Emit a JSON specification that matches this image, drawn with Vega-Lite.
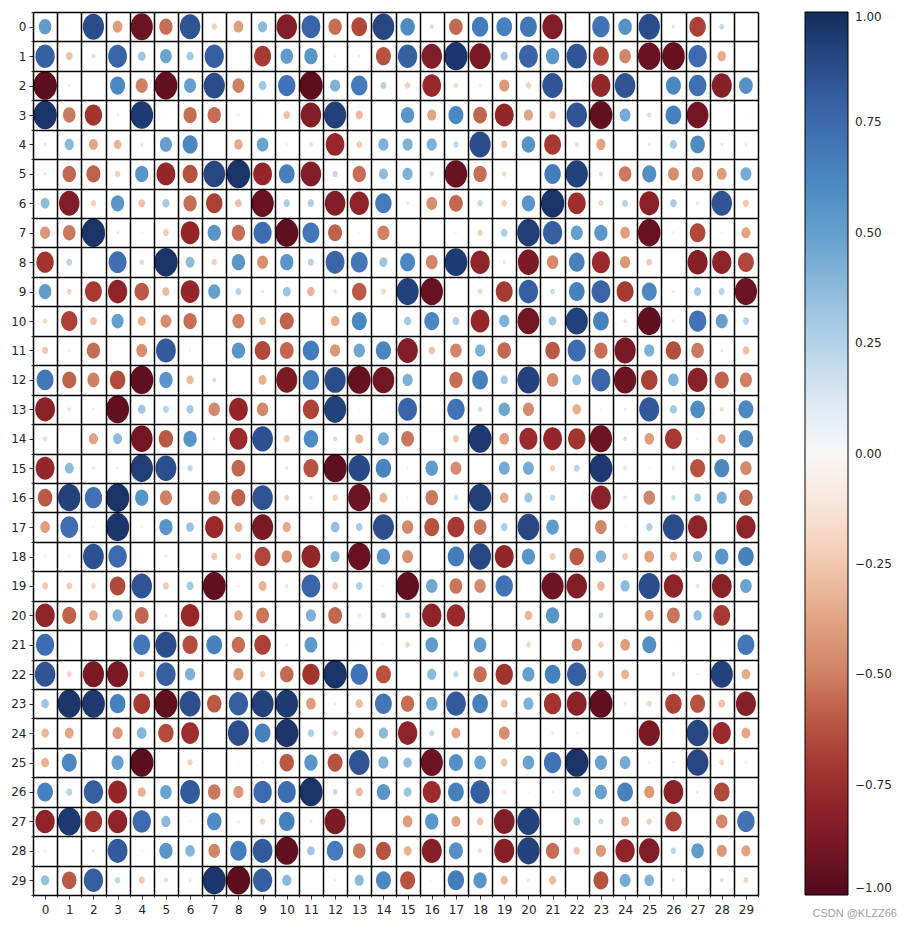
{"$schema":"https://vega.github.io/schema/vega-lite/v6.json","width":725,"height":883,"autosize":{"type":"none"},"padding":{"left":33,"top":12,"right":154,"bottom":30},"background":"white","title":{"text":"CSDN @KLZZ66","orient":"bottom","anchor":"end","frame":"group","dx":139,"offset":-7,"font":"Liberation Sans","fontSize":11,"fontWeight":"normal","color":"#a0a0a0"},"config":{"view":{"stroke":null},"font":"DejaVu Sans"},"data":{"values":[
{"r":0,"c":0,"v":0.52},{"r":0,"c":1,"v":-0.05},{"r":0,"c":2,"v":0.88},{"r":0,"c":3,"v":-0.4},{"r":0,"c":4,"v":-0.92},{"r":0,"c":5,"v":-0.55},{"r":0,"c":6,"v":0.85},{"r":0,"c":7,"v":-0.22},{"r":0,"c":8,"v":-0.4},{"r":0,"c":9,"v":0.38},{"r":0,"c":10,"v":-0.85},{"r":0,"c":11,"v":0.78},{"r":0,"c":12,"v":-0.55},{"r":0,"c":13,"v":-0.65},{"r":0,"c":14,"v":0.9},{"r":0,"c":15,"v":0.6},{"r":0,"c":16,"v":0.17},{"r":0,"c":17,"v":-0.56},{"r":0,"c":18,"v":0.68},{"r":0,"c":19,"v":0.65},{"r":0,"c":20,"v":0.7},{"r":0,"c":21,"v":-0.85},{"r":0,"c":22,"v":0.03},{"r":0,"c":23,"v":0.72},{"r":0,"c":24,"v":0.56},{"r":0,"c":25,"v":0.88},{"r":0,"c":26,"v":0.13},{"r":0,"c":27,"v":-0.68},{"r":0,"c":28,"v":0.2},{"r":0,"c":29,"v":0.02},
{"r":1,"c":0,"v":0.8},{"r":1,"c":1,"v":-0.28},{"r":1,"c":2,"v":0.16},{"r":1,"c":3,"v":0.78},{"r":1,"c":4,"v":0.32},{"r":1,"c":5,"v":0.48},{"r":1,"c":6,"v":0.3},{"r":1,"c":7,"v":0.8},{"r":1,"c":8,"v":0.05},{"r":1,"c":9,"v":-0.7},{"r":1,"c":10,"v":0.52},{"r":1,"c":11,"v":0.55},{"r":1,"c":12,"v":-0.08},{"r":1,"c":13,"v":-0.1},{"r":1,"c":14,"v":-0.62},{"r":1,"c":15,"v":0.8},{"r":1,"c":16,"v":-0.85},{"r":1,"c":17,"v":0.96},{"r":1,"c":18,"v":-0.88},{"r":1,"c":19,"v":0.3},{"r":1,"c":20,"v":0.78},{"r":1,"c":21,"v":0.55},{"r":1,"c":22,"v":0.84},{"r":1,"c":23,"v":-0.65},{"r":1,"c":24,"v":-0.48},{"r":1,"c":25,"v":-0.93},{"r":1,"c":26,"v":-0.94},{"r":1,"c":27,"v":0.76},{"r":1,"c":28,"v":-0.35},{"r":1,"c":29,"v":-0.02},
{"r":2,"c":0,"v":-0.97},{"r":2,"c":1,"v":-0.1},{"r":2,"c":2,"v":-0.02},{"r":2,"c":3,"v":0.62},{"r":2,"c":4,"v":-0.5},{"r":2,"c":5,"v":-0.95},{"r":2,"c":6,"v":0.5},{"r":2,"c":7,"v":0.88},{"r":2,"c":8,"v":-0.5},{"r":2,"c":9,"v":0.32},{"r":2,"c":10,"v":0.72},{"r":2,"c":11,"v":-0.97},{"r":2,"c":12,"v":0.42},{"r":2,"c":13,"v":0.68},{"r":2,"c":14,"v":0.25},{"r":2,"c":15,"v":-0.22},{"r":2,"c":16,"v":-0.77},{"r":2,"c":17,"v":-0.18},{"r":2,"c":18,"v":0.1},{"r":2,"c":19,"v":-0.42},{"r":2,"c":20,"v":-0.22},{"r":2,"c":21,"v":0.85},{"r":2,"c":22,"v":0},{"r":2,"c":23,"v":-0.78},{"r":2,"c":24,"v":0.85},{"r":2,"c":25,"v":0.02},{"r":2,"c":26,"v":0.62},{"r":2,"c":27,"v":0.73},{"r":2,"c":28,"v":-0.83},{"r":2,"c":29,"v":0.57},
{"r":3,"c":0,"v":0.97},{"r":3,"c":1,"v":-0.52},{"r":3,"c":2,"v":-0.72},{"r":3,"c":3,"v":0.1},{"r":3,"c":4,"v":0.94},{"r":3,"c":5,"v":0.05},{"r":3,"c":6,"v":-0.55},{"r":3,"c":7,"v":-0.55},{"r":3,"c":8,"v":-0.1},{"r":3,"c":9,"v":0.05},{"r":3,"c":10,"v":-0.28},{"r":3,"c":11,"v":-0.85},{"r":3,"c":12,"v":0.92},{"r":3,"c":13,"v":-0.3},{"r":3,"c":14,"v":0},{"r":3,"c":15,"v":0.55},{"r":3,"c":16,"v":-0.38},{"r":3,"c":17,"v":0.62},{"r":3,"c":18,"v":-0.57},{"r":3,"c":19,"v":-0.78},{"r":3,"c":20,"v":-0.38},{"r":3,"c":21,"v":-0.28},{"r":3,"c":22,"v":0.85},{"r":3,"c":23,"v":-0.95},{"r":3,"c":24,"v":0.45},{"r":3,"c":25,"v":0.17},{"r":3,"c":26,"v":0.65},{"r":3,"c":27,"v":-0.9},{"r":3,"c":28,"v":0.02},{"r":3,"c":29,"v":0.05},
{"r":4,"c":0,"v":0.13},{"r":4,"c":1,"v":0.38},{"r":4,"c":2,"v":-0.37},{"r":4,"c":3,"v":-0.32},{"r":4,"c":4,"v":-0.14},{"r":4,"c":5,"v":0.5},{"r":4,"c":6,"v":0.62},{"r":4,"c":7,"v":0},{"r":4,"c":8,"v":-0.35},{"r":4,"c":9,"v":0.48},{"r":4,"c":10,"v":-0.1},{"r":4,"c":11,"v":-0.16},{"r":4,"c":12,"v":-0.77},{"r":4,"c":13,"v":-0.24},{"r":4,"c":14,"v":0.42},{"r":4,"c":15,"v":0.42},{"r":4,"c":16,"v":0.42},{"r":4,"c":17,"v":0.22},{"r":4,"c":18,"v":0.88},{"r":4,"c":19,"v":-0.26},{"r":4,"c":20,"v":0.56},{"r":4,"c":21,"v":-0.7},{"r":4,"c":22,"v":0.16},{"r":4,"c":23,"v":-0.38},{"r":4,"c":24,"v":-0.02},{"r":4,"c":25,"v":-0.12},{"r":4,"c":26,"v":0.3},{"r":4,"c":27,"v":0.6},{"r":4,"c":28,"v":0.12},{"r":4,"c":29,"v":-0.13},
{"r":5,"c":0,"v":-0.13},{"r":5,"c":1,"v":-0.56},{"r":5,"c":2,"v":-0.58},{"r":5,"c":3,"v":-0.22},{"r":5,"c":4,"v":0.55},{"r":5,"c":5,"v":-0.78},{"r":5,"c":6,"v":-0.62},{"r":5,"c":7,"v":0.9},{"r":5,"c":8,"v":0.97},{"r":5,"c":9,"v":-0.78},{"r":5,"c":10,"v":0.65},{"r":5,"c":11,"v":-0.85},{"r":5,"c":12,"v":0.22},{"r":5,"c":13,"v":-0.55},{"r":5,"c":14,"v":0.37},{"r":5,"c":15,"v":0.42},{"r":5,"c":16,"v":0.18},{"r":5,"c":17,"v":-0.93},{"r":5,"c":18,"v":-0.55},{"r":5,"c":19,"v":-0.18},{"r":5,"c":20,"v":0},{"r":5,"c":21,"v":0.68},{"r":5,"c":22,"v":0.92},{"r":5,"c":23,"v":0.17},{"r":5,"c":24,"v":-0.52},{"r":5,"c":25,"v":0.58},{"r":5,"c":26,"v":-0.45},{"r":5,"c":27,"v":-0.48},{"r":5,"c":28,"v":-0.4},{"r":5,"c":29,"v":0.45},
{"r":6,"c":0,"v":0.37},{"r":6,"c":1,"v":-0.85},{"r":6,"c":2,"v":-0.22},{"r":6,"c":3,"v":0.55},{"r":6,"c":4,"v":-0.28},{"r":6,"c":5,"v":0.3},{"r":6,"c":6,"v":-0.55},{"r":6,"c":7,"v":-0.68},{"r":6,"c":8,"v":-0.28},{"r":6,"c":9,"v":-0.93},{"r":6,"c":10,"v":0.27},{"r":6,"c":11,"v":0.27},{"r":6,"c":12,"v":-0.85},{"r":6,"c":13,"v":-0.8},{"r":6,"c":14,"v":0.68},{"r":6,"c":15,"v":0.12},{"r":6,"c":16,"v":-0.45},{"r":6,"c":17,"v":-0.57},{"r":6,"c":18,"v":0.22},{"r":6,"c":19,"v":-0.23},{"r":6,"c":20,"v":0.55},{"r":6,"c":21,"v":0.97},{"r":6,"c":22,"v":-0.74},{"r":6,"c":23,"v":-0.2},{"r":6,"c":24,"v":0.25},{"r":6,"c":25,"v":-0.82},{"r":6,"c":26,"v":0.28},{"r":6,"c":27,"v":0.12},{"r":6,"c":28,"v":0.85},{"r":6,"c":29,"v":-0.25},
{"r":7,"c":0,"v":-0.42},{"r":7,"c":1,"v":-0.52},{"r":7,"c":2,"v":0.97},{"r":7,"c":3,"v":-0.12},{"r":7,"c":4,"v":-0.08},{"r":7,"c":5,"v":-0.24},{"r":7,"c":6,"v":-0.78},{"r":7,"c":7,"v":0.55},{"r":7,"c":8,"v":-0.55},{"r":7,"c":9,"v":0.75},{"r":7,"c":10,"v":-0.96},{"r":7,"c":11,"v":0.7},{"r":7,"c":12,"v":-0.58},{"r":7,"c":13,"v":0.06},{"r":7,"c":14,"v":-0.5},{"r":7,"c":15,"v":0.02},{"r":7,"c":16,"v":0},{"r":7,"c":17,"v":-0.07},{"r":7,"c":18,"v":-0.22},{"r":7,"c":19,"v":0.28},{"r":7,"c":20,"v":0.93},{"r":7,"c":21,"v":0.8},{"r":7,"c":22,"v":0.5},{"r":7,"c":23,"v":0.55},{"r":7,"c":24,"v":-0.4},{"r":7,"c":25,"v":-0.93},{"r":7,"c":26,"v":-0.1},{"r":7,"c":27,"v":-0.65},{"r":7,"c":28,"v":-0.08},{"r":7,"c":29,"v":-0.38},
{"r":8,"c":0,"v":-0.72},{"r":8,"c":1,"v":0.24},{"r":8,"c":2,"v":0.02},{"r":8,"c":3,"v":0.74},{"r":8,"c":4,"v":0.18},{"r":8,"c":5,"v":0.97},{"r":8,"c":6,"v":0.37},{"r":8,"c":7,"v":-0.22},{"r":8,"c":8,"v":0.55},{"r":8,"c":9,"v":-0.45},{"r":8,"c":10,"v":0.55},{"r":8,"c":11,"v":0.25},{"r":8,"c":12,"v":0.78},{"r":8,"c":13,"v":0.7},{"r":8,"c":14,"v":0.33},{"r":8,"c":15,"v":0.62},{"r":8,"c":16,"v":-0.48},{"r":8,"c":17,"v":0.94},{"r":8,"c":18,"v":-0.8},{"r":8,"c":19,"v":0.13},{"r":8,"c":20,"v":-0.87},{"r":8,"c":21,"v":-0.47},{"r":8,"c":22,"v":0.65},{"r":8,"c":23,"v":-0.75},{"r":8,"c":24,"v":-0.42},{"r":8,"c":25,"v":-0.24},{"r":8,"c":26,"v":-0.04},{"r":8,"c":27,"v":-0.83},{"r":8,"c":28,"v":-0.8},{"r":8,"c":29,"v":-0.66},
{"r":9,"c":0,"v":0.52},{"r":9,"c":1,"v":-0.2},{"r":9,"c":2,"v":-0.7},{"r":9,"c":3,"v":-0.8},{"r":9,"c":4,"v":-0.6},{"r":9,"c":5,"v":-0.3},{"r":9,"c":6,"v":-0.78},{"r":9,"c":7,"v":0.5},{"r":9,"c":8,"v":0.25},{"r":9,"c":9,"v":0.12},{"r":9,"c":10,"v":0.33},{"r":9,"c":11,"v":-0.32},{"r":9,"c":12,"v":-0.14},{"r":9,"c":13,"v":-0.6},{"r":9,"c":14,"v":-0.2},{"r":9,"c":15,"v":0.92},{"r":9,"c":16,"v":-0.93},{"r":9,"c":17,"v":-0.02},{"r":9,"c":18,"v":-0.2},{"r":9,"c":19,"v":-0.7},{"r":9,"c":20,"v":0.8},{"r":9,"c":21,"v":0.2},{"r":9,"c":22,"v":0.65},{"r":9,"c":23,"v":0.78},{"r":9,"c":24,"v":-0.7},{"r":9,"c":25,"v":0.62},{"r":9,"c":26,"v":-0.12},{"r":9,"c":27,"v":0.3},{"r":9,"c":28,"v":0.25},{"r":9,"c":29,"v":-0.92},
{"r":10,"c":0,"v":-0.18},{"r":10,"c":1,"v":-0.68},{"r":10,"c":2,"v":-0.28},{"r":10,"c":3,"v":0.5},{"r":10,"c":4,"v":-0.33},{"r":10,"c":5,"v":-0.45},{"r":10,"c":6,"v":-0.55},{"r":10,"c":7,"v":0},{"r":10,"c":8,"v":-0.5},{"r":10,"c":9,"v":-0.28},{"r":10,"c":10,"v":-0.58},{"r":10,"c":11,"v":-0.03},{"r":10,"c":12,"v":-0.35},{"r":10,"c":13,"v":0.62},{"r":10,"c":14,"v":0.02},{"r":10,"c":15,"v":0.3},{"r":10,"c":16,"v":0.62},{"r":10,"c":17,"v":0.28},{"r":10,"c":18,"v":-0.78},{"r":10,"c":19,"v":0.42},{"r":10,"c":20,"v":-0.9},{"r":10,"c":21,"v":0.32},{"r":10,"c":22,"v":0.92},{"r":10,"c":23,"v":0.65},{"r":10,"c":24,"v":0.14},{"r":10,"c":25,"v":-0.96},{"r":10,"c":26,"v":-0.12},{"r":10,"c":27,"v":0.72},{"r":10,"c":28,"v":0.5},{"r":10,"c":29,"v":0.25},
{"r":11,"c":0,"v":-0.25},{"r":11,"c":1,"v":0.1},{"r":11,"c":2,"v":-0.55},{"r":11,"c":3,"v":-0.03},{"r":11,"c":4,"v":-0.45},{"r":11,"c":5,"v":0.82},{"r":11,"c":6,"v":-0.08},{"r":11,"c":7,"v":0},{"r":11,"c":8,"v":0.55},{"r":11,"c":9,"v":-0.65},{"r":11,"c":10,"v":-0.57},{"r":11,"c":11,"v":0.68},{"r":11,"c":12,"v":-0.42},{"r":11,"c":13,"v":0.47},{"r":11,"c":14,"v":0.63},{"r":11,"c":15,"v":-0.85},{"r":11,"c":16,"v":-0.27},{"r":11,"c":17,"v":-0.48},{"r":11,"c":18,"v":0.42},{"r":11,"c":19,"v":-0.56},{"r":11,"c":20,"v":0.02},{"r":11,"c":21,"v":-0.6},{"r":11,"c":22,"v":0.75},{"r":11,"c":23,"v":-0.55},{"r":11,"c":24,"v":-0.88},{"r":11,"c":25,"v":0.42},{"r":11,"c":26,"v":-0.63},{"r":11,"c":27,"v":-0.52},{"r":11,"c":28,"v":0.12},{"r":11,"c":29,"v":-0.28},
{"r":12,"c":0,"v":0.7},{"r":12,"c":1,"v":-0.58},{"r":12,"c":2,"v":-0.5},{"r":12,"c":3,"v":-0.64},{"r":12,"c":4,"v":-0.96},{"r":12,"c":5,"v":0.55},{"r":12,"c":6,"v":-0.3},{"r":12,"c":7,"v":0.17},{"r":12,"c":8,"v":0},{"r":12,"c":9,"v":-0.33},{"r":12,"c":10,"v":-0.87},{"r":12,"c":11,"v":0.68},{"r":12,"c":12,"v":0.88},{"r":12,"c":13,"v":-0.94},{"r":12,"c":14,"v":-0.9},{"r":12,"c":15,"v":0.42},{"r":12,"c":16,"v":0.02},{"r":12,"c":17,"v":-0.55},{"r":12,"c":18,"v":0.65},{"r":12,"c":19,"v":0.3},{"r":12,"c":20,"v":0.92},{"r":12,"c":21,"v":-0.47},{"r":12,"c":22,"v":0.36},{"r":12,"c":23,"v":0.78},{"r":12,"c":24,"v":-0.92},{"r":12,"c":25,"v":-0.68},{"r":12,"c":26,"v":0.43},{"r":12,"c":27,"v":-0.82},{"r":12,"c":28,"v":-0.58},{"r":12,"c":29,"v":-0.5},
{"r":13,"c":0,"v":-0.82},{"r":13,"c":1,"v":0.15},{"r":13,"c":2,"v":0.1},{"r":13,"c":3,"v":-0.95},{"r":13,"c":4,"v":0.32},{"r":13,"c":5,"v":0.25},{"r":13,"c":6,"v":0.3},{"r":13,"c":7,"v":-0.47},{"r":13,"c":8,"v":-0.78},{"r":13,"c":9,"v":-0.47},{"r":13,"c":10,"v":0},{"r":13,"c":11,"v":-0.67},{"r":13,"c":12,"v":0.92},{"r":13,"c":13,"v":-0.06},{"r":13,"c":14,"v":0.05},{"r":13,"c":15,"v":0.78},{"r":13,"c":16,"v":0.02},{"r":13,"c":17,"v":0.72},{"r":13,"c":18,"v":0.18},{"r":13,"c":19,"v":0.47},{"r":13,"c":20,"v":-0.46},{"r":13,"c":21,"v":0.03},{"r":13,"c":22,"v":-0.35},{"r":13,"c":23,"v":0.06},{"r":13,"c":24,"v":0.12},{"r":13,"c":25,"v":0.83},{"r":13,"c":26,"v":0.3},{"r":13,"c":27,"v":0.6},{"r":13,"c":28,"v":-0.17},{"r":13,"c":29,"v":0.62},
{"r":14,"c":0,"v":-0.17},{"r":14,"c":1,"v":-0.03},{"r":14,"c":2,"v":-0.38},{"r":14,"c":3,"v":0.37},{"r":14,"c":4,"v":-0.9},{"r":14,"c":5,"v":-0.6},{"r":14,"c":6,"v":0.55},{"r":14,"c":7,"v":-0.12},{"r":14,"c":8,"v":-0.75},{"r":14,"c":9,"v":0.86},{"r":14,"c":10,"v":-0.25},{"r":14,"c":11,"v":0.6},{"r":14,"c":12,"v":0.18},{"r":14,"c":13,"v":-0.33},{"r":14,"c":14,"v":0.45},{"r":14,"c":15,"v":-0.53},{"r":14,"c":16,"v":0.02},{"r":14,"c":17,"v":-0.25},{"r":14,"c":18,"v":0.95},{"r":14,"c":19,"v":-0.4},{"r":14,"c":20,"v":-0.75},{"r":14,"c":21,"v":-0.78},{"r":14,"c":22,"v":-0.72},{"r":14,"c":23,"v":-0.92},{"r":14,"c":24,"v":0.17},{"r":14,"c":25,"v":-0.4},{"r":14,"c":26,"v":-0.7},{"r":14,"c":27,"v":0.08},{"r":14,"c":28,"v":-0.33},{"r":14,"c":29,"v":0.6},
{"r":15,"c":0,"v":-0.78},{"r":15,"c":1,"v":0.37},{"r":15,"c":2,"v":-0.13},{"r":15,"c":3,"v":0.1},{"r":15,"c":4,"v":0.93},{"r":15,"c":5,"v":0.87},{"r":15,"c":6,"v":0.22},{"r":15,"c":7,"v":-0.03},{"r":15,"c":8,"v":-0.57},{"r":15,"c":9,"v":0.01},{"r":15,"c":10,"v":-0.13},{"r":15,"c":11,"v":-0.62},{"r":15,"c":12,"v":-0.96},{"r":15,"c":13,"v":0.89},{"r":15,"c":14,"v":0.64},{"r":15,"c":15,"v":-0.08},{"r":15,"c":16,"v":0.52},{"r":15,"c":17,"v":-0.45},{"r":15,"c":18,"v":0.02},{"r":15,"c":19,"v":0.45},{"r":15,"c":20,"v":0.45},{"r":15,"c":21,"v":-0.22},{"r":15,"c":22,"v":0.24},{"r":15,"c":23,"v":0.95},{"r":15,"c":24,"v":-0.15},{"r":15,"c":25,"v":0.07},{"r":15,"c":26,"v":-0.15},{"r":15,"c":27,"v":-0.62},{"r":15,"c":28,"v":0.62},{"r":15,"c":29,"v":-0.47},
{"r":16,"c":0,"v":-0.6},{"r":16,"c":1,"v":0.92},{"r":16,"c":2,"v":0.72},{"r":16,"c":3,"v":0.97},{"r":16,"c":4,"v":0.55},{"r":16,"c":5,"v":-0.5},{"r":16,"c":6,"v":0.03},{"r":16,"c":7,"v":-0.48},{"r":16,"c":8,"v":-0.58},{"r":16,"c":9,"v":0.85},{"r":16,"c":10,"v":-0.2},{"r":16,"c":11,"v":-0.13},{"r":16,"c":12,"v":-0.22},{"r":16,"c":13,"v":-0.92},{"r":16,"c":14,"v":-0.33},{"r":16,"c":15,"v":-0.08},{"r":16,"c":16,"v":-0.52},{"r":16,"c":17,"v":0.18},{"r":16,"c":18,"v":0.93},{"r":16,"c":19,"v":-0.35},{"r":16,"c":20,"v":0.33},{"r":16,"c":21,"v":0.22},{"r":16,"c":22,"v":0},{"r":16,"c":23,"v":-0.82},{"r":16,"c":24,"v":-0.15},{"r":16,"c":25,"v":-0.48},{"r":16,"c":26,"v":0.18},{"r":16,"c":27,"v":0.28},{"r":16,"c":28,"v":0.42},{"r":16,"c":29,"v":-0.56},
{"r":17,"c":0,"v":-0.4},{"r":17,"c":1,"v":0.74},{"r":17,"c":2,"v":0.07},{"r":17,"c":3,"v":0.96},{"r":17,"c":4,"v":0.08},{"r":17,"c":5,"v":0.55},{"r":17,"c":6,"v":0.33},{"r":17,"c":7,"v":-0.76},{"r":17,"c":8,"v":-0.33},{"r":17,"c":9,"v":-0.88},{"r":17,"c":10,"v":-0.35},{"r":17,"c":11,"v":0.02},{"r":17,"c":12,"v":0.36},{"r":17,"c":13,"v":0.28},{"r":17,"c":14,"v":0.87},{"r":17,"c":15,"v":-0.47},{"r":17,"c":16,"v":-0.62},{"r":17,"c":17,"v":-0.7},{"r":17,"c":18,"v":-0.53},{"r":17,"c":19,"v":0.28},{"r":17,"c":20,"v":0.9},{"r":17,"c":21,"v":0.52},{"r":17,"c":22,"v":0.02},{"r":17,"c":23,"v":-0.48},{"r":17,"c":24,"v":0.06},{"r":17,"c":25,"v":0.27},{"r":17,"c":26,"v":0.88},{"r":17,"c":27,"v":-0.8},{"r":17,"c":28,"v":0.03},{"r":17,"c":29,"v":-0.8},
{"r":18,"c":0,"v":0.08},{"r":18,"c":1,"v":0.08},{"r":18,"c":2,"v":0.86},{"r":18,"c":3,"v":0.76},{"r":18,"c":4,"v":0.06},{"r":18,"c":5,"v":-0.12},{"r":18,"c":6,"v":0.02},{"r":18,"c":7,"v":-0.25},{"r":18,"c":8,"v":-0.24},{"r":18,"c":9,"v":-0.66},{"r":18,"c":10,"v":-0.43},{"r":18,"c":11,"v":-0.78},{"r":18,"c":12,"v":0.38},{"r":18,"c":13,"v":-0.93},{"r":18,"c":14,"v":0.55},{"r":18,"c":15,"v":-0.45},{"r":18,"c":16,"v":0.02},{"r":18,"c":17,"v":0.68},{"r":18,"c":18,"v":0.9},{"r":18,"c":19,"v":-0.78},{"r":18,"c":20,"v":0.55},{"r":18,"c":21,"v":-0.24},{"r":18,"c":22,"v":-0.6},{"r":18,"c":23,"v":0.43},{"r":18,"c":24,"v":-0.24},{"r":18,"c":25,"v":-0.4},{"r":18,"c":26,"v":-0.3},{"r":18,"c":27,"v":0.38},{"r":18,"c":28,"v":0.55},{"r":18,"c":29,"v":0.65},
{"r":19,"c":0,"v":-0.25},{"r":19,"c":1,"v":-0.24},{"r":19,"c":2,"v":-0.2},{"r":19,"c":3,"v":-0.65},{"r":19,"c":4,"v":0.85},{"r":19,"c":5,"v":-0.25},{"r":19,"c":6,"v":0.3},{"r":19,"c":7,"v":-0.95},{"r":19,"c":8,"v":-0.1},{"r":19,"c":9,"v":-0.33},{"r":19,"c":10,"v":-0.14},{"r":19,"c":11,"v":0.78},{"r":19,"c":12,"v":-0.25},{"r":19,"c":13,"v":0.27},{"r":19,"c":14,"v":-0.08},{"r":19,"c":15,"v":-0.95},{"r":19,"c":16,"v":0.47},{"r":19,"c":17,"v":-0.53},{"r":19,"c":18,"v":-0.47},{"r":19,"c":19,"v":0.72},{"r":19,"c":20,"v":0},{"r":19,"c":21,"v":-0.92},{"r":19,"c":22,"v":-0.85},{"r":19,"c":23,"v":-0.32},{"r":19,"c":24,"v":0.38},{"r":19,"c":25,"v":0.88},{"r":19,"c":26,"v":-0.8},{"r":19,"c":27,"v":-0.15},{"r":19,"c":28,"v":-0.82},{"r":19,"c":29,"v":0.48},
{"r":20,"c":0,"v":-0.8},{"r":20,"c":1,"v":-0.58},{"r":20,"c":2,"v":-0.35},{"r":20,"c":3,"v":0.42},{"r":20,"c":4,"v":-0.57},{"r":20,"c":5,"v":0.12},{"r":20,"c":6,"v":-0.77},{"r":20,"c":7,"v":0.03},{"r":20,"c":8,"v":-0.35},{"r":20,"c":9,"v":-0.53},{"r":20,"c":10,"v":0.02},{"r":20,"c":11,"v":0.42},{"r":20,"c":12,"v":-0.57},{"r":20,"c":13,"v":-0.15},{"r":20,"c":14,"v":0.22},{"r":20,"c":15,"v":0.2},{"r":20,"c":16,"v":-0.8},{"r":20,"c":17,"v":-0.76},{"r":20,"c":18,"v":0.02},{"r":20,"c":19,"v":0.01},{"r":20,"c":20,"v":-0.32},{"r":20,"c":21,"v":0.55},{"r":20,"c":22,"v":0.02},{"r":20,"c":23,"v":0.2},{"r":20,"c":24,"v":0.02},{"r":20,"c":25,"v":-0.37},{"r":20,"c":26,"v":-0.53},{"r":20,"c":27,"v":0.35},{"r":20,"c":28,"v":-0.7},{"r":20,"c":29,"v":0},
{"r":21,"c":0,"v":0.75},{"r":21,"c":1,"v":0.07},{"r":21,"c":2,"v":0.01},{"r":21,"c":3,"v":0.02},{"r":21,"c":4,"v":0.7},{"r":21,"c":5,"v":0.88},{"r":21,"c":6,"v":-0.63},{"r":21,"c":7,"v":0.65},{"r":21,"c":8,"v":-0.55},{"r":21,"c":9,"v":-0.68},{"r":21,"c":10,"v":0.1},{"r":21,"c":11,"v":0.53},{"r":21,"c":12,"v":0},{"r":21,"c":13,"v":0.05},{"r":21,"c":14,"v":-0.08},{"r":21,"c":15,"v":-0.2},{"r":21,"c":16,"v":0.52},{"r":21,"c":17,"v":0.03},{"r":21,"c":18,"v":0.52},{"r":21,"c":19,"v":-0.03},{"r":21,"c":20,"v":-0.2},{"r":21,"c":21,"v":-0.02},{"r":21,"c":22,"v":-0.43},{"r":21,"c":23,"v":-0.22},{"r":21,"c":24,"v":-0.4},{"r":21,"c":25,"v":0.58},{"r":21,"c":26,"v":-0.08},{"r":21,"c":27,"v":0.02},{"r":21,"c":28,"v":-0.08},{"r":21,"c":29,"v":0.7},
{"r":22,"c":0,"v":0.85},{"r":22,"c":1,"v":-0.2},{"r":22,"c":2,"v":-0.88},{"r":22,"c":3,"v":-0.88},{"r":22,"c":4,"v":-0.22},{"r":22,"c":5,"v":0.8},{"r":22,"c":6,"v":0.42},{"r":22,"c":7,"v":0},{"r":22,"c":8,"v":-0.42},{"r":22,"c":9,"v":-0.22},{"r":22,"c":10,"v":-0.56},{"r":22,"c":11,"v":-0.72},{"r":22,"c":12,"v":0.97},{"r":22,"c":13,"v":0.72},{"r":22,"c":14,"v":-0.62},{"r":22,"c":15,"v":0.03},{"r":22,"c":16,"v":0.38},{"r":22,"c":17,"v":0.22},{"r":22,"c":18,"v":-0.55},{"r":22,"c":19,"v":-0.72},{"r":22,"c":20,"v":0.5},{"r":22,"c":21,"v":0.65},{"r":22,"c":22,"v":0.8},{"r":22,"c":23,"v":-0.25},{"r":22,"c":24,"v":-0.33},{"r":22,"c":25,"v":0.02},{"r":22,"c":26,"v":0.15},{"r":22,"c":27,"v":0.08},{"r":22,"c":28,"v":0.92},{"r":22,"c":29,"v":-0.35},
{"r":23,"c":0,"v":0.32},{"r":23,"c":1,"v":0.96},{"r":23,"c":2,"v":0.95},{"r":23,"c":3,"v":0.65},{"r":23,"c":4,"v":-0.7},{"r":23,"c":5,"v":-0.95},{"r":23,"c":6,"v":0.87},{"r":23,"c":7,"v":-0.6},{"r":23,"c":8,"v":0.8},{"r":23,"c":9,"v":0.92},{"r":23,"c":10,"v":0.94},{"r":23,"c":11,"v":-0.4},{"r":23,"c":12,"v":-0.1},{"r":23,"c":13,"v":-0.3},{"r":23,"c":14,"v":0.7},{"r":23,"c":15,"v":-0.55},{"r":23,"c":16,"v":0.47},{"r":23,"c":17,"v":0.82},{"r":23,"c":18,"v":0.65},{"r":23,"c":19,"v":-0.28},{"r":23,"c":20,"v":0.42},{"r":23,"c":21,"v":-0.72},{"r":23,"c":22,"v":-0.82},{"r":23,"c":23,"v":-0.96},{"r":23,"c":24,"v":-0.13},{"r":23,"c":25,"v":-0.2},{"r":23,"c":26,"v":-0.68},{"r":23,"c":27,"v":-0.62},{"r":23,"c":28,"v":-0.28},{"r":23,"c":29,"v":-0.83},
{"r":24,"c":0,"v":-0.32},{"r":24,"c":1,"v":-0.37},{"r":24,"c":2,"v":0.01},{"r":24,"c":3,"v":-0.42},{"r":24,"c":4,"v":0.4},{"r":24,"c":5,"v":-0.64},{"r":24,"c":6,"v":-0.74},{"r":24,"c":7,"v":0},{"r":24,"c":8,"v":0.87},{"r":24,"c":9,"v":0.65},{"r":24,"c":10,"v":0.96},{"r":24,"c":11,"v":0.27},{"r":24,"c":12,"v":-0.2},{"r":24,"c":13,"v":-0.37},{"r":24,"c":14,"v":0.38},{"r":24,"c":15,"v":-0.8},{"r":24,"c":16,"v":0.22},{"r":24,"c":17,"v":-0.37},{"r":24,"c":18,"v":-0.03},{"r":24,"c":19,"v":-0.45},{"r":24,"c":20,"v":0.02},{"r":24,"c":21,"v":-0.12},{"r":24,"c":22,"v":-0.08},{"r":24,"c":23,"v":-0.05},{"r":24,"c":24,"v":-0.01},{"r":24,"c":25,"v":-0.88},{"r":24,"c":26,"v":0},{"r":24,"c":27,"v":0.9},{"r":24,"c":28,"v":-0.75},{"r":24,"c":29,"v":-0.37},
{"r":25,"c":0,"v":-0.33},{"r":25,"c":1,"v":0.62},{"r":25,"c":2,"v":-0.08},{"r":25,"c":3,"v":0.5},{"r":25,"c":4,"v":-0.97},{"r":25,"c":5,"v":0},{"r":25,"c":6,"v":-0.22},{"r":25,"c":7,"v":-0.02},{"r":25,"c":8,"v":0.06},{"r":25,"c":9,"v":-0.07},{"r":25,"c":10,"v":-0.6},{"r":25,"c":11,"v":0.55},{"r":25,"c":12,"v":-0.62},{"r":25,"c":13,"v":0.85},{"r":25,"c":14,"v":0.42},{"r":25,"c":15,"v":0.35},{"r":25,"c":16,"v":-0.92},{"r":25,"c":17,"v":0.58},{"r":25,"c":18,"v":0.48},{"r":25,"c":19,"v":-0.27},{"r":25,"c":20,"v":0.48},{"r":25,"c":21,"v":0.72},{"r":25,"c":22,"v":0.97},{"r":25,"c":23,"v":0.5},{"r":25,"c":24,"v":0.45},{"r":25,"c":25,"v":0.08},{"r":25,"c":26,"v":-0.1},{"r":25,"c":27,"v":0.9},{"r":25,"c":28,"v":-0.2},{"r":25,"c":29,"v":-0.1},
{"r":26,"c":0,"v":0.65},{"r":26,"c":1,"v":0.25},{"r":26,"c":2,"v":0.8},{"r":26,"c":3,"v":-0.78},{"r":26,"c":4,"v":-0.33},{"r":26,"c":5,"v":0.48},{"r":26,"c":6,"v":0.82},{"r":26,"c":7,"v":-0.52},{"r":26,"c":8,"v":-0.42},{"r":26,"c":9,"v":0.76},{"r":26,"c":10,"v":0.75},{"r":26,"c":11,"v":0.97},{"r":26,"c":12,"v":0.2},{"r":26,"c":13,"v":-0.3},{"r":26,"c":14,"v":0.55},{"r":26,"c":15,"v":0.33},{"r":26,"c":16,"v":-0.75},{"r":26,"c":17,"v":0.65},{"r":26,"c":18,"v":0.8},{"r":26,"c":19,"v":-0.15},{"r":26,"c":20,"v":0.07},{"r":26,"c":21,"v":0.1},{"r":26,"c":22,"v":0.33},{"r":26,"c":23,"v":0.5},{"r":26,"c":24,"v":0.65},{"r":26,"c":25,"v":-0.42},{"r":26,"c":26,"v":-0.82},{"r":26,"c":27,"v":0.12},{"r":26,"c":28,"v":-0.65},{"r":26,"c":29,"v":-0.01},
{"r":27,"c":0,"v":-0.8},{"r":27,"c":1,"v":0.95},{"r":27,"c":2,"v":-0.72},{"r":27,"c":3,"v":-0.8},{"r":27,"c":4,"v":0.76},{"r":27,"c":5,"v":0.38},{"r":27,"c":6,"v":0.08},{"r":27,"c":7,"v":0.6},{"r":27,"c":8,"v":-0.12},{"r":27,"c":9,"v":-0.22},{"r":27,"c":10,"v":0.65},{"r":27,"c":11,"v":-0.13},{"r":27,"c":12,"v":-0.87},{"r":27,"c":13,"v":-0.01},{"r":27,"c":14,"v":0},{"r":27,"c":15,"v":-0.4},{"r":27,"c":16,"v":0.55},{"r":27,"c":17,"v":-0.37},{"r":27,"c":18,"v":-0.27},{"r":27,"c":19,"v":-0.85},{"r":27,"c":20,"v":0.92},{"r":27,"c":21,"v":0},{"r":27,"c":22,"v":0.28},{"r":27,"c":23,"v":0.2},{"r":27,"c":24,"v":-0.33},{"r":27,"c":25,"v":-0.22},{"r":27,"c":26,"v":-0.68},{"r":27,"c":27,"v":0.04},{"r":27,"c":28,"v":-0.47},{"r":27,"c":29,"v":0.72},
{"r":28,"c":0,"v":-0.1},{"r":28,"c":1,"v":-0.02},{"r":28,"c":2,"v":-0.13},{"r":28,"c":3,"v":0.82},{"r":28,"c":4,"v":0.08},{"r":28,"c":5,"v":0.55},{"r":28,"c":6,"v":0.4},{"r":28,"c":7,"v":-0.48},{"r":28,"c":8,"v":0.68},{"r":28,"c":9,"v":0.82},{"r":28,"c":10,"v":-0.95},{"r":28,"c":11,"v":0.32},{"r":28,"c":12,"v":0.68},{"r":28,"c":13,"v":-0.52},{"r":28,"c":14,"v":-0.62},{"r":28,"c":15,"v":-0.33},{"r":28,"c":16,"v":-0.83},{"r":28,"c":17,"v":0.58},{"r":28,"c":18,"v":-0.17},{"r":28,"c":19,"v":-0.83},{"r":28,"c":20,"v":0.92},{"r":28,"c":21,"v":-0.55},{"r":28,"c":22,"v":-0.27},{"r":28,"c":23,"v":-0.42},{"r":28,"c":24,"v":-0.8},{"r":28,"c":25,"v":-0.85},{"r":28,"c":26,"v":0.23},{"r":28,"c":27,"v":0.52},{"r":28,"c":28,"v":-0.42},{"r":28,"c":29,"v":-0.38},
{"r":29,"c":0,"v":0.35},{"r":29,"c":1,"v":-0.6},{"r":29,"c":2,"v":0.8},{"r":29,"c":3,"v":0.22},{"r":29,"c":4,"v":-0.25},{"r":29,"c":5,"v":-0.17},{"r":29,"c":6,"v":-0.13},{"r":29,"c":7,"v":0.96},{"r":29,"c":8,"v":-0.97},{"r":29,"c":9,"v":0.8},{"r":29,"c":10,"v":0.38},{"r":29,"c":11,"v":0},{"r":29,"c":12,"v":0.08},{"r":29,"c":13,"v":0.38},{"r":29,"c":14,"v":0.62},{"r":29,"c":15,"v":-0.62},{"r":29,"c":16,"v":0.07},{"r":29,"c":17,"v":0.68},{"r":29,"c":18,"v":0.55},{"r":29,"c":19,"v":-0.3},{"r":29,"c":20,"v":-0.12},{"r":29,"c":21,"v":-0.3},{"r":29,"c":22,"v":0},{"r":29,"c":23,"v":-0.62},{"r":29,"c":24,"v":0.45},{"r":29,"c":25,"v":0.4},{"r":29,"c":26,"v":-0.15},{"r":29,"c":27,"v":0.05},{"r":29,"c":28,"v":0.15},{"r":29,"c":29,"v":-0.2}
]},
"layer":[
{"mark":{"type":"point","filled":true,"opacity":1,"strokeWidth":0,"shape":"M-0.82,0A0.82,1,0,1,1,0.82,0A0.82,1,0,1,1,-0.82,0Z"},
"encoding":{
"x":{"field":"c","type":"quantitative","scale":{"domain":[-0.5,29.5],"nice":false,"zero":false},"title":null,"axis":{"orient":"bottom","values":[0,1,2,3,4,5,6,7,8,9,10,11,12,13,14,15,16,17,18,19,20,21,22,23,24,25,26,27,28,29],"grid":false,"domain":false,"tickColor":"#333333","tickSize":4,"labelFontSize":12,"labelColor":"#262626","labelPadding":5,"labelAngle":0,"labelOverlap":false,"labelFlush":false}},
"y":{"field":"r","type":"quantitative","scale":{"domain":[-0.5,29.5],"nice":false,"zero":false,"reverse":true},"title":null,"axis":{"orient":"left","values":[0,1,2,3,4,5,6,7,8,9,10,11,12,13,14,15,16,17,18,19,20,21,22,23,24,25,26,27,28,29],"grid":false,"domain":false,"tickColor":"#333333","tickSize":4,"labelFontSize":12,"labelColor":"#262626","labelPadding":3,"labelOverlap":false,"labelFlush":false}},
"color":{"field":"v","type":"quantitative","scale":{"domain":[-1,-0.875,-0.75,-0.625,-0.5,-0.375,-0.25,-0.125,0,0.125,0.25,0.375,0.5,0.625,0.75,0.875,1],"range":["#520a1c","#7a1a24","#9c2a2c","#b5503f","#cf8065","#e3a482","#f2c9b0","#f9e4d8","#f7f7f7","#dbe8f3","#b5d3e9","#8cbbdc","#649fce","#4a86c0","#3e6cb1","#2b4d8c","#142c5c"]},"legend":{"orient":"none","legendX":772,"legendY":0,"title":null,"direction":"vertical","gradientLength":883,"gradientThickness":43,"values":[-1,-0.75,-0.5,-0.25,0,0.25,0.5,0.75,1],"format":".2f","gradientStrokeColor":"#000000","gradientStrokeWidth":1,"labelFontSize":12,"labelColor":"#262626","labelOffset":7,"labelBaseline":"middle","labelOverlap":false,"labelFlush":false}},
"size":{"field":"v","type":"quantitative","scale":{"type":"pow","exponent":2,"domain":[-1,0,1],"range":[866,0,866]},"legend":null}
}},
{"mark":{"type":"point","opacity":0},
"encoding":{
"x":{"field":"c","type":"quantitative","title":null,"axis":{"orient":"bottom","values":[-0.5,0.5,1.5,2.5,3.5,4.5,5.5,6.5,7.5,8.5,9.5,10.5,11.5,12.5,13.5,14.5,15.5,16.5,17.5,18.5,19.5,20.5,21.5,22.5,23.5,24.5,25.5,26.5,27.5,28.5,29.5],"grid":true,"gridColor":"#000000","gridWidth":1.5,"gridOpacity":1,"domain":false,"labels":false,"tickColor":"#333333","tickSize":2,"zindex":1}},
"y":{"field":"r","type":"quantitative","title":null,"axis":{"orient":"left","values":[-0.5,0.5,1.5,2.5,3.5,4.5,5.5,6.5,7.5,8.5,9.5,10.5,11.5,12.5,13.5,14.5,15.5,16.5,17.5,18.5,19.5,20.5,21.5,22.5,23.5,24.5,25.5,26.5,27.5,28.5,29.5],"grid":true,"gridColor":"#000000","gridWidth":1.5,"gridOpacity":1,"domain":false,"labels":false,"tickColor":"#333333","tickSize":2,"zindex":1}}
}}
],
"resolve":{"axis":{"x":"independent","y":"independent"}}}
